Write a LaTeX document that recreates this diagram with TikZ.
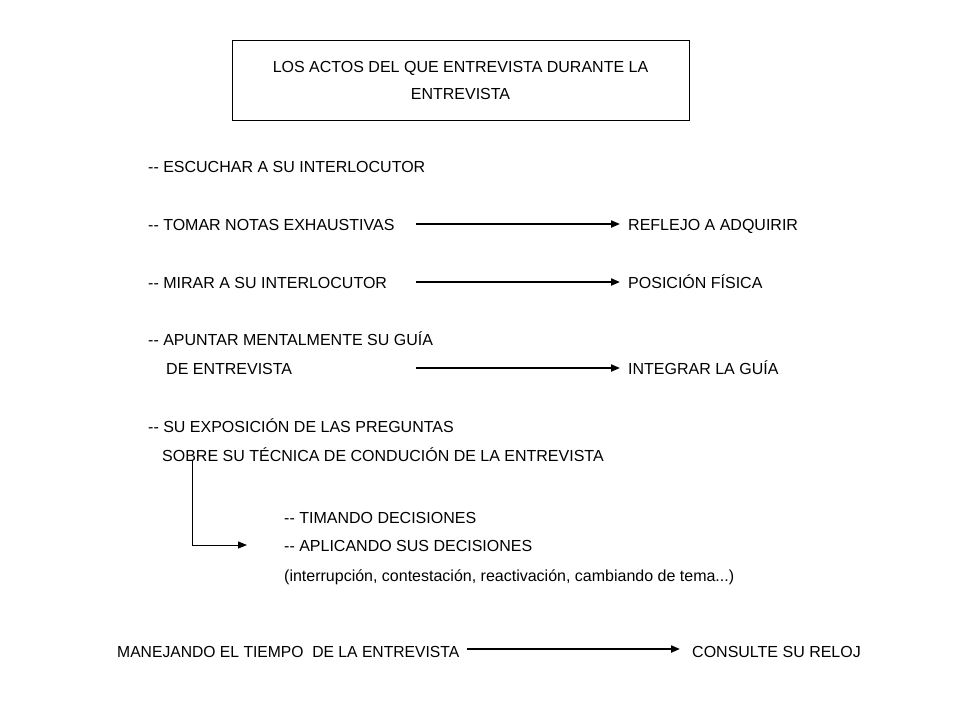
\documentclass[tikz,border=0pt]{standalone}
\usepackage{fontspec}
\setmainfont{Liberation Sans}
\usetikzlibrary{arrows.meta}
\newcommand{\dd}{{-}{-}}
\begin{document}
\begin{tikzpicture}[x=1pt,y=-1pt,
  txt/.style={anchor=base west,inner sep=0pt,font=\fontsize{16}{19}\selectfont},
  arr/.style={line width=2pt,-{Triangle[length=9pt,width=7pt]}},
  elbow/.style={line width=1pt,-{Triangle[length=9pt,width=7pt]}}]
\useasboundingbox[fill=white] (0,0) rectangle (960,720);
\node[draw,line width=0.8pt,minimum width=457pt,minimum height=80pt,inner sep=0pt,
  align=center,font=\fontsize{16}{27}\selectfont] (title) at (460.5,80)
  {LOS ACTOS DEL QUE ENTREVISTA DURANTE LA\\ENTREVISTA};
\node[txt] (t1) at (148,172) {\dd\ ESCUCHAR A SU INTERLOCUTOR};
\node[txt] (t2) at (148,230) {\dd\ TOMAR NOTAS EXHAUSTIVAS};
\node[txt] (r2) at (628,230) {REFLEJO A ADQUIRIR};
\node[txt] (t3) at (148,288) {\dd\ MIRAR A SU INTERLOCUTOR};
\node[txt] (r3) at (628,288) {POSICIÓN FÍSICA};
\node[txt] (t4) at (148,345) {\dd\ APUNTAR MENTALMENTE SU GUÍA};
\node[txt] (t4b) at (166,374) {DE ENTREVISTA};
\node[txt] (r4) at (628,374) {INTEGRAR LA GUÍA};
\node[txt] (t5) at (148,432) {\dd\ SU EXPOSICIÓN DE LAS PREGUNTAS};
\node[txt] (t5b) at (162,461) {SOBRE SU TÉCNICA DE CONDUCIÓN DE LA ENTREVISTA};
\node[txt] (s1) at (284,523) {\dd\ TIMANDO DECISIONES};
\node[txt] (s2) at (284,551) {\dd\ APLICANDO SUS DECISIONES};
\node[txt] (s3) at (284,581) {(interrupción, contestación, reactivación, cambiando de tema...)};
\node[txt] (m) at (117,657) {\scalebox{0.98}[1]{MANEJANDO EL TIEMPO\ \ DE LA ENTREVISTA}};
\node[txt] (c) at (692,657) {CONSULTE SU RELOJ};
\coordinate (a2s) at (416,224); \coordinate (a2e) at (620,224);
\coordinate (a3s) at (416,282); \coordinate (a3e) at (620,282);
\coordinate (a4s) at (416,368); \coordinate (a4e) at (620,368);
\coordinate (ms) at (467,649); \coordinate (me) at (680,649);
\coordinate (es) at (192,460); \coordinate (ee) at (247,545);
\draw[arr] (a2s) -- (a2e);
\draw[arr] (a3s) -- (a3e);
\draw[arr] (a4s) -- (a4e);
\draw[arr] (ms) -- (me);
\draw[elbow] (es) |- (ee);
\end{tikzpicture}
\end{document}
